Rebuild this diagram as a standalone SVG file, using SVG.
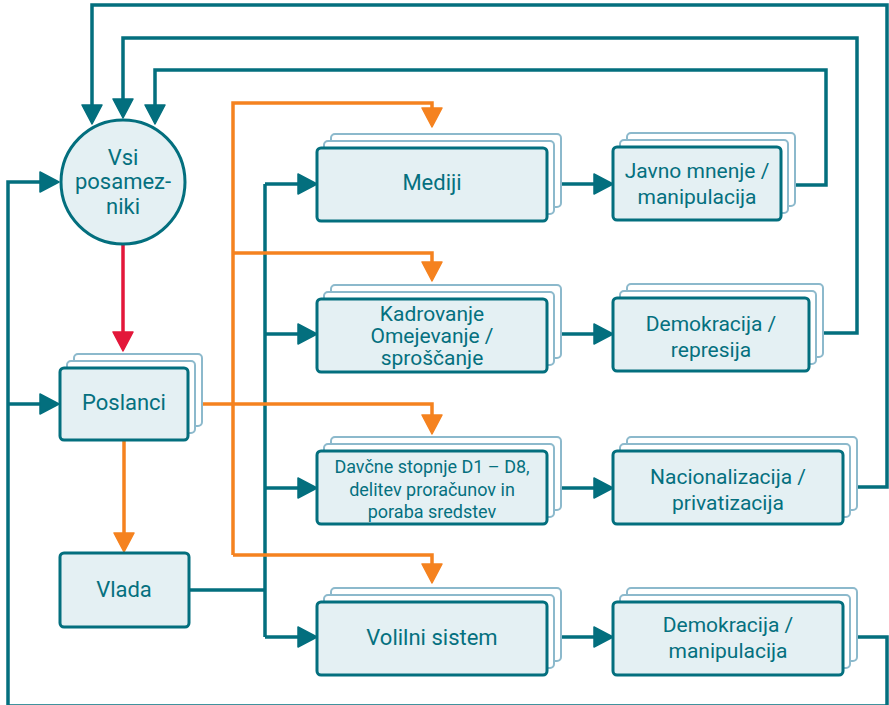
<svg xmlns="http://www.w3.org/2000/svg" width="889" height="705" viewBox="0 0 889 705">
<defs>
<style>
.t{font-family:Roboto,"Open Sans",sans-serif;fill:#05707f;text-anchor:middle}
.f{fill:#e4f0f3;stroke:#036f7e;stroke-width:3}
.b{fill:#fff;stroke:#8cb9cc;stroke-width:2}
.ct{fill:none;stroke:#036f7e;stroke-width:3.5}
.co{fill:none;stroke:#f5821f;stroke-width:3.5}
.cr{fill:none;stroke:#e3173a;stroke-width:3.5}
</style>
<marker id="mt" markerUnits="userSpaceOnUse" markerWidth="24" markerHeight="24" refX="15" refY="10" orient="auto" overflow="visible"><path d="M0,0 L19,10 L0,20 Z" fill="#036f7e" stroke="#036f7e" stroke-width="1.5" stroke-linejoin="round"/></marker>
<marker id="mo" markerUnits="userSpaceOnUse" markerWidth="24" markerHeight="24" refX="15" refY="10" orient="auto" overflow="visible"><path d="M0,0 L19,10 L0,20 Z" fill="#f5821f" stroke="#f5821f" stroke-width="1.5" stroke-linejoin="round"/></marker>
<marker id="mr" markerUnits="userSpaceOnUse" markerWidth="24" markerHeight="24" refX="15" refY="10" orient="auto" overflow="visible"><path d="M0,0 L19,10 L0,20 Z" fill="#e3173a" stroke="#e3173a" stroke-width="1.5" stroke-linejoin="round"/></marker>
</defs>
<rect width="889" height="705" fill="#fff"/>
<g id="connectors">
<path class="ct" d="M857,487 H887 V5 H92 V120" marker-end="url(#mt)"/>
<path class="ct" d="M823,333 H857 V38 H123 V114" marker-end="url(#mt)"/>
<path class="ct" d="M795,185 H826 V70 H155 V120" marker-end="url(#mt)"/>
<path class="ct" d="M857,637 H887 V706 H8 V182 H55" marker-end="url(#mt)"/>
<path class="ct" d="M8,404 H55" marker-end="url(#mt)"/>
<path class="ct" d="M189,590 H265"/>
<path class="ct" d="M265,184 V637"/>
<path class="ct" d="M265,184 H313" marker-end="url(#mt)"/>
<path class="ct" d="M265,334 H313" marker-end="url(#mt)"/>
<path class="ct" d="M265,488 H313" marker-end="url(#mt)"/>
<path class="ct" d="M265,637 H313" marker-end="url(#mt)"/>
<path class="ct" d="M561,184 H609" marker-end="url(#mt)"/>
<path class="ct" d="M561,334 H609" marker-end="url(#mt)"/>
<path class="ct" d="M561,488 H609" marker-end="url(#mt)"/>
<path class="ct" d="M561,637 H609" marker-end="url(#mt)"/>
<path class="co" d="M233,555 V103 H432 V123" marker-end="url(#mo)"/>
<path class="co" d="M233,253 H432 V277" marker-end="url(#mo)"/>
<path class="co" d="M202,404 H432 V430" marker-end="url(#mo)"/>
<path class="co" d="M233,555 H432 V579" marker-end="url(#mo)"/>
<path class="co" d="M124,440 V548" marker-end="url(#mo)"/>
<path class="cr" d="M123,244 V347" marker-end="url(#mr)"/>
</g>
<g id="vsi">
<circle cx="123" cy="182" r="62" class="f"/>
<text class="t" font-size="22" x="123" y="165">Vsi</text>
<text class="t" font-size="22" x="123" y="189">posamez-</text>
<text class="t" font-size="22" x="123" y="214">niki</text>
</g>
<g id="poslanci">
<rect class="b" x="74" y="354" width="128" height="72" rx="4"/>
<rect class="b" x="67" y="361" width="128" height="72" rx="4"/>
<rect class="f" x="60" y="368" width="128" height="72" rx="4"/>
<text class="t" font-size="22" x="124" y="410">Poslanci</text>
</g>
<g id="vlada">
<rect class="f" x="60" y="553" width="129" height="74" rx="4"/>
<text class="t" font-size="22" x="124" y="597">Vlada</text>
</g>
<g id="mediji">
<rect class="b" x="331" y="134" width="230" height="73" rx="4"/>
<rect class="b" x="324" y="141" width="230" height="73" rx="4"/>
<rect class="f" x="317" y="148" width="230" height="73" rx="4"/>
<text class="t" font-size="22" x="432" y="190">Mediji</text>
</g>
<g id="kadrovanje">
<rect class="b" x="331" y="285" width="230" height="73" rx="4"/>
<rect class="b" x="324" y="292" width="230" height="73" rx="4"/>
<rect class="f" x="317" y="299" width="230" height="73" rx="4"/>
<text class="t" font-size="21" x="432" y="321">Kadrovanje</text>
<text class="t" font-size="21" x="432" y="343">Omejevanje /</text>
<text class="t" font-size="21" x="432" y="365">sproščanje</text>
</g>
<g id="davcne">
<rect class="b" x="331" y="437" width="230" height="73" rx="4"/>
<rect class="b" x="324" y="444" width="230" height="73" rx="4"/>
<rect class="f" x="317" y="451" width="230" height="73" rx="4"/>
<text class="t" font-size="18" x="432" y="473">Davčne stopnje D1 – D8,</text>
<text class="t" font-size="18" x="432" y="496">delitev proračunov in</text>
<text class="t" font-size="18" x="432" y="518">poraba sredstev</text>
</g>
<g id="volilni">
<rect class="b" x="331" y="588" width="230" height="73" rx="4"/>
<rect class="b" x="324" y="595" width="230" height="73" rx="4"/>
<rect class="f" x="317" y="602" width="230" height="73" rx="4"/>
<text class="t" font-size="22" x="432" y="645">Volilni sistem</text>
</g>
<g id="javno">
<rect class="b" x="627" y="133" width="168" height="73" rx="4"/>
<rect class="b" x="620" y="140" width="168" height="73" rx="4"/>
<rect class="f" x="613" y="147" width="168" height="73" rx="4"/>
<text class="t" font-size="21" x="697" y="178">Javno mnenje /</text>
<text class="t" font-size="21" x="697" y="204">manipulacija</text>
</g>
<g id="represija">
<rect class="b" x="627" y="284" width="196" height="73" rx="4"/>
<rect class="b" x="620" y="291" width="196" height="73" rx="4"/>
<rect class="f" x="613" y="298" width="196" height="73" rx="4"/>
<text class="t" font-size="21" x="711" y="331">Demokracija /</text>
<text class="t" font-size="21" x="711" y="357">represija</text>
</g>
<g id="nacionalizacija">
<rect class="b" x="627" y="437" width="230" height="73" rx="4"/>
<rect class="b" x="620" y="444" width="230" height="73" rx="4"/>
<rect class="f" x="613" y="451" width="230" height="73" rx="4"/>
<text class="t" font-size="21" x="728" y="484">Nacionalizacija /</text>
<text class="t" font-size="21" x="728" y="510">privatizacija</text>
</g>
<g id="manipulacija">
<rect class="b" x="627" y="588" width="230" height="73" rx="4"/>
<rect class="b" x="620" y="595" width="230" height="73" rx="4"/>
<rect class="f" x="613" y="602" width="230" height="73" rx="4"/>
<text class="t" font-size="21" x="728" y="632">Demokracija /</text>
<text class="t" font-size="21" x="728" y="658">manipulacija</text>
</g>
</svg>
